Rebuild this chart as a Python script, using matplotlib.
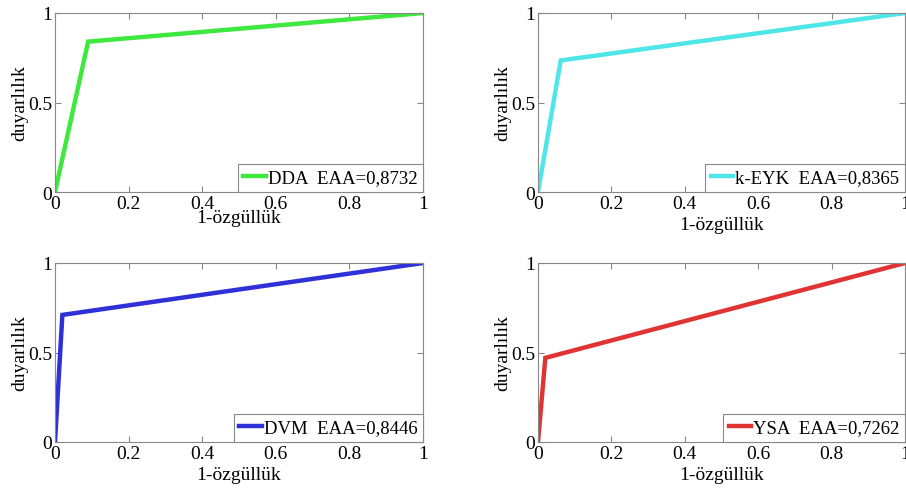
import matplotlib.pyplot as plt

plt.rcParams['font.family'] = ['Liberation Serif', 'DejaVu Serif']

# ROC points (1-specificity, sensitivity)
dda_x = [0, 0.09, 1]
dda_y = [0, 0.84, 1]
keyk_x = [0, 0.062, 1]
keyk_y = [0, 0.735, 1]
dvm_x = [0, 0.02, 1]
dvm_y = [0, 0.71, 1]
ysa_x = [0, 0.02, 1]
ysa_y = [0, 0.47, 1]

labels = ['DDA  EAA=0,8732', 'k-EYK  EAA=0,8365', 'DVM  EAA=0,8446', 'YSA  EAA=0,7262']
colors = ['#3ee83e', '#4fe6ea', '#3030d8', '#e03434']
xticks = [0, 0.2, 0.4, 0.6, 0.8, 1]
yticks = [0, 0.5, 1]
tick_labels_x = ['0', '0.2', '0.4', '0.6', '0.8', '1']
tick_labels_y = ['0', '0.5', '1']

W, H = 906, 489
fig = plt.figure(figsize=(W / 100, H / 100), dpi=100)

# pixel boxes: left, top, right, bottom
boxes = [(55, 14, 423, 193), (538, 14, 905, 193),
         (55, 264, 423, 443), (538, 264, 905, 443)]
series = [(dda_x, dda_y), (keyk_x, keyk_y), (dvm_x, dvm_y), (ysa_x, ysa_y)]
xlabel_pads = [-2, 3, 3, 3]

for i, (l, t, r, b) in enumerate(boxes):
    ax = fig.add_axes([l / W, (H - b) / H, (r - l) / W, (b - t) / H])
    xs, ys = series[i]
    ax.plot(xs, ys, color=colors[i], lw=3.2, label=labels[i], solid_joinstyle='miter')
    ax.set_xlim(0, 1)
    ax.set_ylim(0, 1)
    ax.set_xticks(xticks)
    ax.set_xticklabels(tick_labels_x)
    ax.set_yticks(yticks)
    ax.set_yticklabels(tick_labels_y)
    ax.tick_params(direction='in', top=True, right=True, labelsize=14,
                   length=4, color='#888888', pad=2)
    for s in ax.spines.values():
        s.set_color('#888888')
        s.set_linewidth(0.8)
    ax.set_xlabel('1-özgüllük', fontsize=14, labelpad=xlabel_pads[i])
    ax.set_ylabel('duyarlılık', fontsize=14, labelpad=0)
    leg = ax.legend(loc='lower right', fontsize=13.5, handlelength=1.2,
                    borderaxespad=0, fancybox=False, framealpha=1,
                    edgecolor='#888888', borderpad=0.3, handletextpad=0.1)
    leg.get_frame().set_linewidth(0.8)

fig.savefig('out.png', dpi=100)
